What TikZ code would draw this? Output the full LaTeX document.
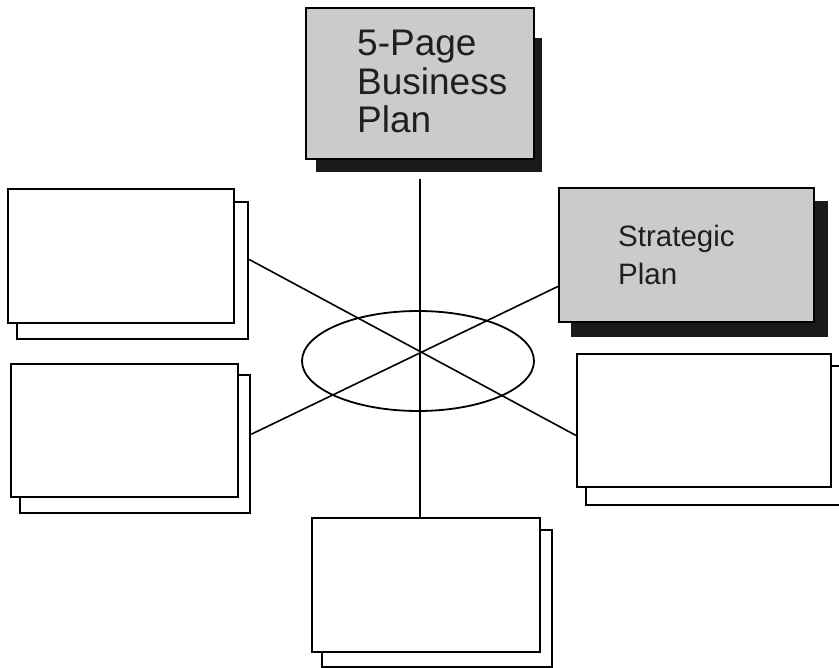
\documentclass[tikz,border=0pt]{standalone}
\usepackage{fontspec}
\setmainfont{Liberation Sans}
\usetikzlibrary{shapes.geometric,calc}
\definecolor{boxgray}{HTML}{CBCBCB}
\definecolor{shadowblack}{HTML}{1A1A1A}
\begin{document}
\begin{tikzpicture}[x=1pt,y=-1pt,
  frame/.style={draw=black,line width=2.2pt,fill=white,inner sep=0pt,anchor=north west},
  grayframe/.style={frame,fill=boxgray},
  shadowbox/.style={draw=none,fill=shadowblack,inner sep=0pt,anchor=north west},
  link/.style={line width=1.6pt},
  label/.style={anchor=north west,inner sep=0pt,align=left,text=black!88}]
\clip (0,0) rectangle (839,668);
\useasboundingbox (0,0) rectangle (839,668);
% top box
\node[shadowbox,minimum width=226pt,minimum height=134pt] (topsh) at (316,38) {};
\node[grayframe,minimum width=228pt,minimum height=151pt] (top) at (305,7) {};
\node[label,font=\fontsize{37}{38.5}\selectfont] (toptext) at (357,30) {5-Page\\Business\\Plan};
% strategic plan box
\node[shadowbox,minimum width=257pt,minimum height=136pt] (strsh) at (571,201) {};
\node[grayframe,minimum width=255pt,minimum height=134pt] (str) at (558,187) {};
\node[label,font=\fontsize{29.5}{38}\selectfont] (strtext) at (618,225) {Strategic\\Plan};
% left top
\node[frame,minimum width=231pt,minimum height=137pt] (ltb) at (16,201) {};
\node[frame,minimum width=226pt,minimum height=134pt] (ltf) at (7,188) {};
% left bottom
\node[frame,minimum width=230pt,minimum height=138pt] (lbb) at (19,374) {};
\node[frame,minimum width=227pt,minimum height=133pt] (lbf) at (10,363) {};
% right bottom
\node[frame,minimum width=270pt,minimum height=139pt] (rbb) at (585,365) {};
\node[frame,minimum width=254pt,minimum height=133pt] (rbf) at (576,353) {};
% bottom
\node[frame,minimum width=230pt,minimum height=137pt] (bb) at (321,529) {};
\node[frame,minimum width=228pt,minimum height=134pt] (bf) at (311,517) {};
% ellipse
\node[draw,ellipse,line width=1.8pt,minimum width=232pt,minimum height=100pt,inner sep=0pt] (hub) at (418,361) {};
% connectors
\draw[link] ($(ltb.north east)!0.42!(ltb.south east)$) -- ($(rbf.north west)!0.61!(rbf.south west)$);
\draw[link] ($(lbb.north east)!0.43!(lbb.south east)$) -- ($(str.north west)!0.73!(str.south west)$);
\draw[link] ($(top.south |- topsh.south)+(0,7)$) -- (top.south |- bf.north);
\end{tikzpicture}
\end{document}
